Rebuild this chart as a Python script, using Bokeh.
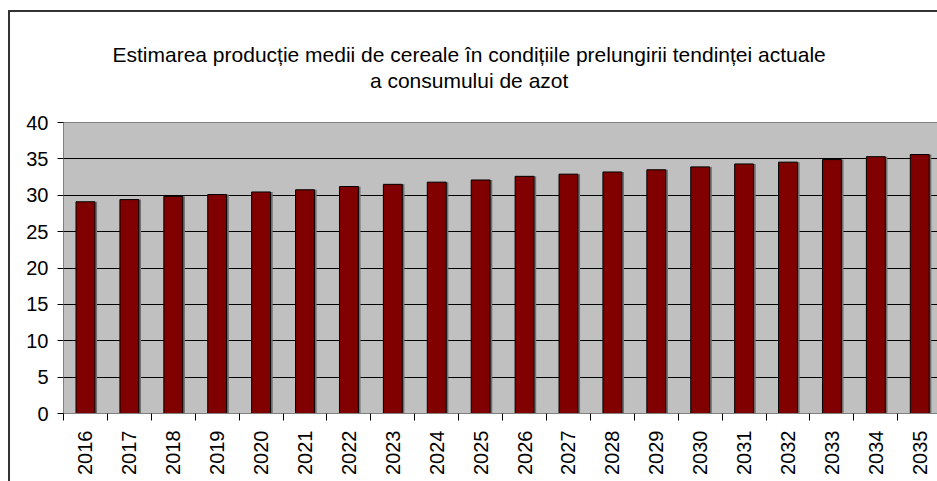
from bokeh.plotting import figure
from bokeh.models import Range1d, FixedTicker, Title
from bokeh.embed import file_html
from bokeh.resources import INLINE
from bokeh.transform import dodge
import math

years = ["2016", "2017", "2018", "2019", "2020", "2021", "2022", "2023", "2024", "2025",
         "2026", "2027", "2028", "2029", "2030", "2031", "2032", "2033", "2034", "2035"]
values = [29.1, 29.4, 29.85, 30.1, 30.45, 30.75, 31.2, 31.5, 31.8, 32.1,
          32.6, 32.9, 33.2, 33.5, 33.9, 34.3, 34.55, 34.9, 35.3, 35.6]
y_ticks = [0, 5, 10, 15, 20, 25, 30, 35, 40]
title_lines = ["Estimarea producție medii de cereale în condițiile prelungirii tendinței actuale",
               "a consumului de azot"]

xs = list(range(len(years)))
n = len(years)

FONT = "Liberation Sans"

p = figure(width=929, height=471, output_backend="svg", toolbar_location=None,
           x_range=Range1d(-0.5, n - 0.5 - 0.05), y_range=Range1d(0, 40),
           min_border_left=53, min_border_right=0, min_border_top=110, min_border_bottom=70)

p.background_fill_color = "#C0C0C0"
p.border_fill_color = "white"
p.outline_line_color = "#808080"
p.outline_line_width = 1

# two-line title
t = Title(text="\n".join(title_lines), align="left", text_align="center",
          vertical_align="top",
          text_font=FONT, text_font_size="21px", text_line_height=1.12,
          text_font_style="normal", text_color="black", standoff=57, offset=49)
p.add_layout(t, "above")

# grid
p.xgrid.visible = False
p.ygrid.ticker = FixedTicker(ticks=y_ticks)
p.ygrid.grid_line_color = "black"
p.ygrid.grid_line_width = 1

# y axis
p.yaxis.ticker = FixedTicker(ticks=y_ticks)
p.yaxis.major_tick_out = 6
p.yaxis.major_tick_in = 0
p.yaxis.minor_tick_out = 0
p.yaxis.minor_tick_in = 0
p.yaxis.axis_line_color = "#808080"
p.yaxis.major_tick_line_color = "black"
p.yaxis.major_label_text_font = FONT
p.yaxis.major_label_text_font_size = "20px"
p.yaxis.major_label_text_color = "black"
p.yaxis.major_label_standoff = 9

# x axis: labels at category centres, tick marks at boundaries
boundaries = [i - 0.5 for i in range(n + 1)]
p.xaxis.ticker = FixedTicker(ticks=xs, minor_ticks=boundaries)
p.xaxis.major_label_overrides = {i: years[i] for i in xs}
p.xaxis.major_tick_out = 0
p.xaxis.major_tick_in = 0
p.xaxis.minor_tick_out = 7
p.xaxis.minor_tick_in = 0
p.xaxis.minor_tick_line_color = "black"
p.xaxis.axis_line_color = "#808080"
p.xaxis.major_label_orientation = math.pi / 2
p.xaxis.major_label_text_font = FONT
p.xaxis.major_label_text_font_size = "20px"
p.xaxis.major_label_text_color = "black"
p.xaxis.major_label_standoff = 10

src = dict(x=xs, top=values)
# shadow
p.vbar(x=dodge("x", 0.05, range=p.x_range), top="top", width=0.43, source=src,
       fill_color="#707070", line_color=None)
# bars
p.vbar(x="x", top="top", width=0.43, source=src, fill_color="#800000",
       line_color="black", line_width=1)

p.styles = {"margin-left": "8px", "margin-top": "10px",
            "border-top": "2px solid #333333", "border-left": "2px solid #333333",
            "box-sizing": "border-box"}

open("out.html", "w").write(file_html(p, INLINE))
